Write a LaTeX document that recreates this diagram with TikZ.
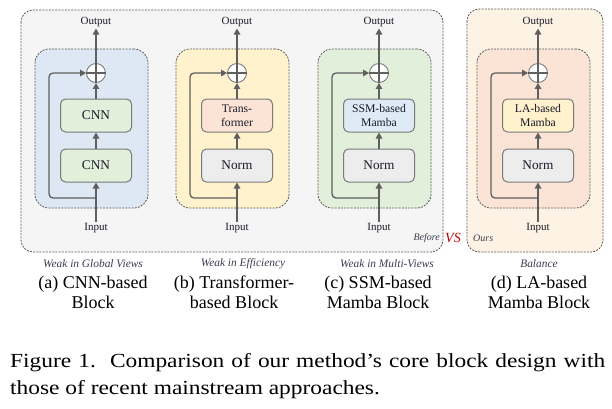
\documentclass[tikz,border=0pt]{standalone}
\usepackage{fontspec}
\setmainfont{Liberation Serif}
\newfontfamily\capfont[FakeStretch=1.17]{Liberation Serif}
\usetikzlibrary{arrows.meta,calc}
\definecolor{dashgray}{HTML}{5A5A5A}
\definecolor{boxgray}{HTML}{7A7A7A}
\definecolor{linegray}{HTML}{5F5F5F}
\definecolor{txt}{HTML}{1A1A2A}
\definecolor{weakc}{HTML}{3C3C50}
\definecolor{beforefill}{HTML}{F5F5F5}
\definecolor{oursfill}{HTML}{FDF3E4}
\definecolor{lblue}{HTML}{DEE8F4}
\definecolor{lgreen}{HTML}{E2EFDA}
\definecolor{lyellow}{HTML}{FFF2CC}
\definecolor{lpeach}{HTML}{FBE4D5}
\definecolor{lgray}{HTML}{EDEDED}
\definecolor{lskyblue}{HTML}{DEEBF7}
\definecolor{vsred}{HTML}{C00000}
\tikzset{
  outerbox/.style={draw=dashgray, dash pattern=on 2pt off 1.2pt, rounded corners=12pt, line width=0.8pt},
  innerbox/.style={draw=dashgray, dash pattern=on 2pt off 1.2pt, rounded corners=14pt, line width=0.8pt, minimum width=113pt, minimum height=159pt, inner sep=0pt},
  blk/.style={draw=boxgray, rounded corners=5pt, line width=1pt, minimum width=71pt, minimum height=33pt, inner sep=0pt, align=center, text=txt, font=\fontsize{13.3}{14}\selectfont},
  smallblk/.style={font=\fontsize{11.7}{14}\selectfont},
  sumnode/.style={circle, draw=boxgray, fill=white, minimum size=19pt, inner sep=0pt, line width=0.9pt},
  plusline/.style={draw=linegray, line width=1.2pt},
  flow/.style={draw=linegray, line width=1.3pt, -{Triangle[length=6pt,width=6.5pt]}},
  skipflow/.style={flow, rounded corners=4pt},
  iolbl/.style={font=\fontsize{11}{11}\selectfont, text=txt, inner sep=0pt},
  weak/.style={font=\fontsize{11.4}{12}\selectfont\itshape, text=weakc, inner sep=0pt},
  sublbl/.style={font=\fontsize{18}{20}\selectfont, text=black, align=center, inner sep=0pt},
  tag/.style={font=\fontsize{10}{10}\selectfont\itshape, text=weakc, inner sep=0pt},
  caplbl/.style={font=\capfont\fontsize{20}{27}\selectfont, text=black, inner sep=0pt, anchor=base west},
}
% #1 prefix, #2 chain x, #3 inner fill, #4 top fill, #5 top text, #6 top style, #7 bottom fill, #8 bottom text
\newcommand\drawblock[8]{%
  \node[innerbox, fill=#3] (#1in) at (#2-4.5,128.5) {};
  \node[blk, fill=#4, #6] (#1top) at (#2,115.5) {#5};
  \node[blk, fill=#7] (#1bot) at (#2,165.5) {#8};
  \node[sumnode] (#1sum) at (#2,73) {};
  \draw[plusline] (#1sum.north) -- (#1sum.south) (#1sum.west) -- (#1sum.east);
  \node[iolbl] (#1out) at (#2,22) {Output};
  \node[iolbl] (#1inp) at (#2,228) {Input};
  \coordinate (#1split) at (#2,198);
  \coordinate (#1corner) at (#2-47,73);
  \draw[flow] ([yshift=1.5pt]#1inp.north) -- (#1bot.south);
  \draw[flow] (#1bot.north) -- (#1top.south);
  \draw[flow] (#1top.north) -- (#1sum.south);
  \draw[flow] (#1sum.north) -- ([yshift=-1.5pt]#1out.south);
  \draw[skipflow] (#1split) -| (#1corner) -- (#1sum.west);
}
\begin{document}
\begin{tikzpicture}[x=1pt,y=-1pt]
\path[use as bounding box, fill=white] (0,0) rectangle (612,408);
% outer groups
\path[outerbox, fill=beforefill] (21,10) rectangle (443,252);
\path[outerbox, fill=oursfill] (467,9) rectangle (603,252);
% blocks
\drawblock{a}{96}{lblue}{lgreen}{CNN}{}{lgreen}{CNN}
\drawblock{b}{237}{lyellow}{lpeach}{Trans-\\former}{smallblk}{lgray}{Norm}
\drawblock{c}{379}{lgreen}{lskyblue}{SSM-based\\Mamba}{smallblk}{lgray}{Norm}
\drawblock{d}{538}{lpeach}{lyellow}{LA-based\\Mamba}{smallblk}{lgray}{Norm}
% tags
\node[tag, anchor=east] (before) at (440,238) {Before};
\node[font=\fontsize{14}{14}\selectfont\itshape, text=vsred, inner sep=0pt] (vs) at (453,238) {VS};
\node[tag, anchor=west] (ours) at (473,238) {Ours};
% weakness labels
\node[weak] (wa) at (93,264) {Weak in Global Views};
\node[weak] (wb) at (243,264) {Weak in Efficiency};
\node[weak] (wc) at (387,264) {Weak in Multi-Views};
\node[weak] (wd) at (539,264) {Balance};
% sub captions
\node[sublbl] (sa) at (93,292) {(a) CNN-based\\Block};
\node[sublbl] (sb) at (234,292) {(b) Transformer-\\based Block};
\node[sublbl] (sc) at (378,292) {(c) SSM-based\\Mamba Block};
\node[sublbl] (sd) at (539,292) {(d) LA-based\\Mamba Block};
% caption
\node[caplbl] (cap1) at (10,367) {\makebox[595pt][s]{Figure 1.\ \ Comparison of our method’s core block design with}};
\node[caplbl] (cap2) at (10,394) {those of recent mainstream approaches.};
\end{tikzpicture}
\end{document}
